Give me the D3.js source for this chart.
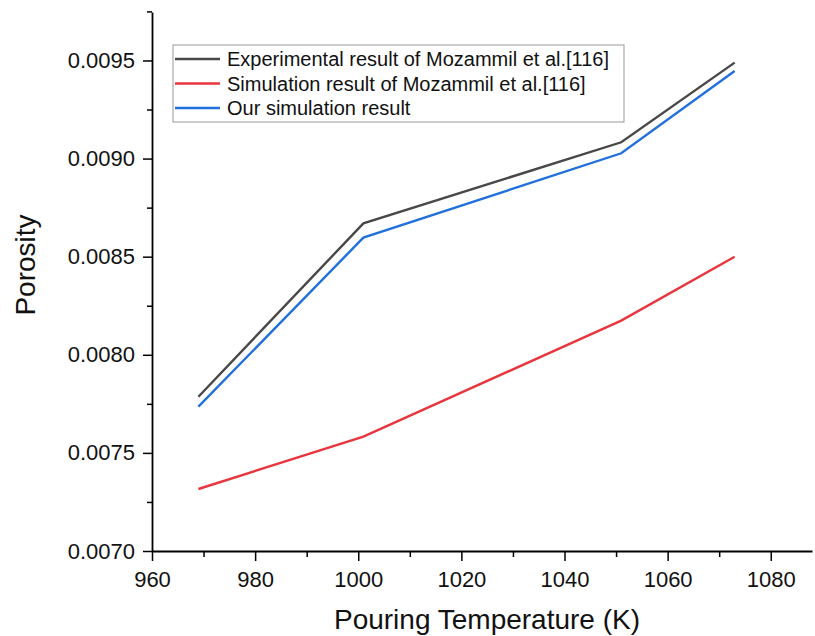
<!DOCTYPE html>
<html>
<head>
<meta charset="utf-8">
<script src="https://cdn.jsdelivr.net/npm/d3@7"></script>
<style>
  body { margin: 0; background: #fff; }
  text { font-family: "Liberation Sans", Arial, sans-serif; fill: #111; }
</style>
</head>
<body>
<svg id="chart" width="815" height="636"></svg>
<script>
// data
const temps = [969, 1001, 1051, 1073];
const experimental = [0.007786, 0.008670, 0.009083, 0.009489];
const simulationRef = [0.007316, 0.007583, 0.008174, 0.008500];
const ourSimulation = [0.007736, 0.008597, 0.009027, 0.009446];
const seriesNames = [
  "Experimental result of Mozammil et al.[116]",
  "Simulation result of Mozammil et al.[116]",
  "Our simulation result"
];
const seriesColors = ["#484848", "#e8353e", "#2170dd"];
const xTicks = [960, 980, 1000, 1020, 1040, 1060, 1080];
const yTicks = [0.0070, 0.0075, 0.0080, 0.0085, 0.0090, 0.0095];

const svg = d3.select("#chart");
const plotLeft = 152, plotRight = 812, plotTop = 12, plotBottom = 551;

const x = d3.scaleLinear().domain([960, 1088]).range([plotLeft, plotRight]);
const y = d3.scaleLinear().domain([0.0070, 0.009747]).range([plotBottom, plotTop]);

// minor ticks first
svg.append("g")
  .attr("transform", `translate(0,${plotBottom})`)
  .call(d3.axisBottom(x).tickValues(d3.range(970, 1088, 20)).tickSize(6).tickFormat(""))
  .call(g => g.select(".domain").remove())
  .selectAll("line").attr("stroke", "#000").attr("stroke-width", 1.5);

svg.append("g")
  .attr("transform", `translate(${plotLeft},0)`)
  .call(d3.axisLeft(y).tickValues([0.00725, 0.00775, 0.00825, 0.00875, 0.00925, 0.00975]).tickSize(5).tickFormat(""))
  .call(g => g.select(".domain").remove())
  .selectAll("line").attr("stroke", "#000").attr("stroke-width", 1.5);

// X axis
const xAxis = svg.append("g")
  .attr("transform", `translate(0,${plotBottom})`)
  .call(d3.axisBottom(x).tickValues(xTicks).tickSize(10).tickSizeOuter(0).tickPadding(10).tickFormat(d3.format("d")));
xAxis.select(".domain").attr("stroke", "#000").attr("stroke-width", 1.8);
xAxis.selectAll(".tick line").attr("stroke", "#000").attr("stroke-width", 1.5);
xAxis.selectAll("text").attr("font-size", 22).attr("fill", "#111");

// Y axis
const yAxis = svg.append("g")
  .attr("transform", `translate(${plotLeft},0)`)
  .call(d3.axisLeft(y).tickValues(yTicks).tickSize(9).tickSizeOuter(0).tickPadding(8).tickFormat(d3.format(".4f")));
yAxis.select(".domain").attr("stroke", "#000").attr("stroke-width", 1.8);
yAxis.selectAll(".tick line").attr("stroke", "#000").attr("stroke-width", 1.5);
yAxis.selectAll("text").attr("font-size", 22).attr("fill", "#111");

// axis titles
svg.append("text")
  .attr("x", 487).attr("y", 629)
  .attr("text-anchor", "middle")
  .attr("font-size", 28)
  .text("Pouring Temperature (K)");

svg.append("text")
  .attr("transform", "translate(35,265) rotate(-90)")
  .attr("text-anchor", "middle")
  .attr("font-size", 28)
  .text("Porosity");

// lines
const allSeries = [experimental, simulationRef, ourSimulation];
const line = d3.line().x((d, i) => x(temps[i])).y(d => y(d));

svg.selectAll(".series")
  .data(allSeries)
  .enter()
  .append("path")
  .attr("class", "series")
  .attr("d", d => line(d))
  .attr("fill", "none")
  .attr("stroke", (d, i) => seriesColors[i])
  .attr("stroke-width", 2.4);

// legend
const legend = svg.append("g").attr("transform", "translate(173,45)");
legend.append("rect")
  .attr("width", 451).attr("height", 77)
  .attr("fill", "#fff")
  .attr("stroke", "#999").attr("stroke-width", 1);

seriesNames.forEach((name, i) => {
  const row = legend.append("g").attr("transform", `translate(0,${14 + i * 24.5})`);
  row.append("line")
    .attr("x1", 2).attr("x2", 47)
    .attr("stroke", seriesColors[i]).attr("stroke-width", 2.4);
  row.append("text")
    .attr("x", 54).attr("y", 0)
    .attr("dy", "0.36em")
    .attr("font-size", 20)
    .text(name);
});
</script>
</body>
</html>
